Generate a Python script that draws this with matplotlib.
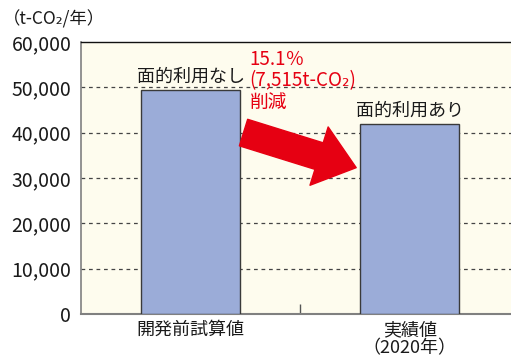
import matplotlib
matplotlib.use("Agg")
import matplotlib.pyplot as plt
from matplotlib.ticker import FuncFormatter, FixedLocator

plt.rcParams['font.family'] = ['Noto Sans CJK JP', 'DejaVu Sans']

categories = ["開発前試算値", "実績値\n（2020年）"]
values = [49450, 41935]
bar_labels = ["面的利用なし", "面的利用あり"]
yticks = [0, 10000, 20000, 30000, 40000, 50000, 60000]
unit_label = "（t‑CO₂/年）"
reduction_lines = ["15.1％", "(7,515t‑CO₂)", "削減"]

W, H = 511, 362
fig = plt.figure(figsize=(W / 100, H / 100), dpi=100)
ax = fig.add_axes([81 / W, 1 - 314 / H, 1 - 81 / W, (314 - 42) / H])
ax.set_facecolor("#FEFCEE")

x = list(range(len(categories)))
ax.bar(x, values, width=0.452, color="#9BACD8", edgecolor="#3a3a3a", linewidth=1.0, zorder=3)

ax.set_xlim(-0.5, 1.463)
ax.set_ylim(0, 60000)
ax.yaxis.set_major_locator(FixedLocator(yticks))
ax.yaxis.set_major_formatter(FuncFormatter(lambda v, p: f"{int(v):,}"))
ax.tick_params(axis='y', length=0, pad=7, labelsize=14, labelcolor="#1a1a1a")
ax.set_xticks(x)
ax.set_xticklabels(categories, fontsize=13, color="#1a1a1a", linespacing=1.0)
ax.tick_params(axis='x', length=0, pad=5)
ax.set_xticks([0.5], minor=True)
ax.tick_params(axis='x', which='minor', direction='in', length=7, width=1, color="#555555")

for v in yticks[1:-1]:
    ax.axhline(v, color="#444444", linestyle=(0, (3, 3)), linewidth=0.9, zorder=1)

ax.spines['right'].set_visible(False)
ax.spines['top'].set_color("#111111")
ax.spines['top'].set_linewidth(1.0)
ax.spines['left'].set_color("#808080")
ax.spines['left'].set_linewidth(1.2)
ax.spines['bottom'].set_color("#808080")
ax.spines['bottom'].set_linewidth(1.5)

for xi, v, lab in zip(x, values, bar_labels):
    ax.annotate(lab, (xi, v), xytext=(0, 3), textcoords="offset points",
                ha="center", va="bottom", fontsize=13, color="#1a1a1a", zorder=4)

fig.text(3 / W, 1 - 19 / H, unit_label, fontsize=12.5, color="#1a1a1a", va="center", ha="left")

for i, line in enumerate(reduction_lines):
    ax.annotate(line, (0.392, 0.915), xycoords="axes fraction",
                xytext=(0, -15.3 * i), textcoords="offset points",
                fontsize=13.5, color="#E60012", va="baseline", ha="left", zorder=5)

ax.annotate("", xy=(0.640, 0.538), xytext=(0.378, 0.667),
            xycoords="axes fraction", textcoords="axes fraction",
            arrowprops=dict(arrowstyle="simple,head_length=1.4,head_width=2.2,tail_width=1.0",
                            color="#E60012", mutation_scale=20, shrinkA=0, shrinkB=0),
            zorder=5)

fig.savefig("out.png", dpi=100)
